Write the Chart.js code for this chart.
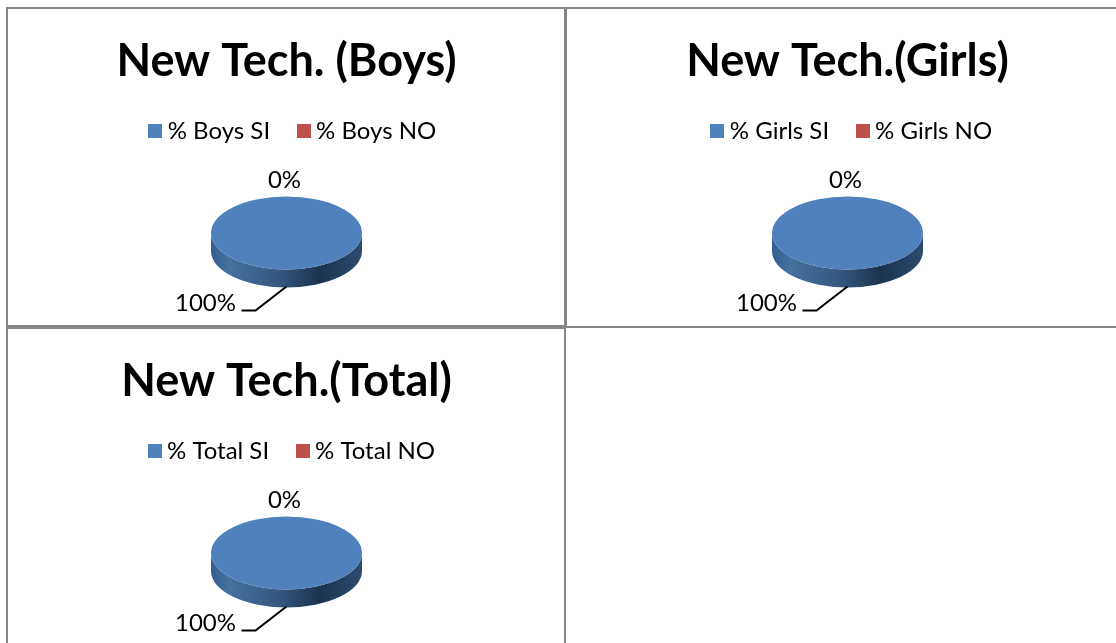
<!DOCTYPE html>
<html>
<head>
<meta charset="utf-8">
<title>New Tech.</title>
<script src="https://cdn.jsdelivr.net/npm/chart.js@4"></script>
<style>
  html, body { margin:0; padding:0; background:#fff; overflow:hidden; }
  body { position:relative; width:1116px; height:643px; }
  .rule { position:absolute; background:#868686; }
  canvas { position:absolute; }
</style>
</head>
<body>
<div class="rule" style="left:6px;top:7px;width:1110px;height:2px"></div>
<div class="rule" style="left:6px;top:7px;width:2px;height:636px"></div>
<div class="rule" style="left:564px;top:7px;width:3px;height:319px"></div>
<div class="rule" style="left:564px;top:326px;width:2px;height:317px"></div>
<div class="rule" style="left:6px;top:325px;width:558px;height:4px"></div>
<div class="rule" style="left:564px;top:326px;width:552px;height:2px"></div>

<canvas id="boysChart" style="left:8px;top:9px"></canvas>
<canvas id="girlsChart" style="left:567px;top:9px"></canvas>
<canvas id="totalChart" style="left:8px;top:329px"></canvas>

<script>
// Datos
const boysLabels = ['% Boys SI', '% Boys NO'];
const boysValues = [100, 0];
const girlsLabels = ['% Girls SI', '% Girls NO'];
const girlsValues = [100, 0];
const totalLabels = ['% Total SI', '% Total NO'];
const totalValues = [100, 0];
const sliceColors = ['#4F81BD', '#C0504D'];

const FONT = 'Lato, Carlito, Calibri, sans-serif';
const SQUASH = 0.483;  // alto/ancho de la elipse
const DEPTH = 18;      // canto del "3D"

// Cuadradito de leyenda, mas cerca del texto de lo que deja Chart.js
function swatch(color){
  const c = document.createElement('canvas');
  c.width = 14; c.height = 14;
  const g = c.getContext('2d');
  g.fillStyle = color;
  g.fillRect(0, 0, 14, 14);
  return c;
}

// Pie "3D": aplasta el circulo y dibuja el canto debajo
const pie3d = {
  id: 'pie3d',
  afterLayout(chart, args, opts){
    // la leyenda no va centrada del todo en el original
    chart.legend.left += opts.legendShift;
    chart.legend.right += opts.legendShift;
  },
  beforeDatasetDraw(chart){
    const ctx = chart.ctx;
    const arc = chart.getDatasetMeta(0).data[0];
    const { x, y, outerRadius: r } = arc;
    const ry = r * SQUASH;
    const grad = ctx.createLinearGradient(x - r, 0, x + r, 0);
    grad.addColorStop(0, '#335d8f');
    grad.addColorStop(0.12, '#44719f');
    grad.addColorStop(0.45, '#34577f');
    grad.addColorStop(0.72, '#1d3350');
    grad.addColorStop(1, '#2c4b70');
    ctx.save();
    ctx.fillStyle = grad;
    ctx.beginPath();
    ctx.ellipse(x, y, r, ry, 0, Math.PI, 0, true);
    ctx.lineTo(x + r, y + DEPTH);
    ctx.ellipse(x, y + DEPTH, r, ry, 0, 0, Math.PI, false);
    ctx.closePath();
    ctx.fill();
    ctx.translate(0, y);
    ctx.scale(1, SQUASH);
    ctx.translate(0, -y);
  },
  afterDatasetDraw(chart){
    chart.ctx.restore();
  },
  afterDraw(chart){
    const ctx = chart.ctx;
    const meta = chart.getDatasetMeta(0);
    const values = chart.data.datasets[0].data;
    ctx.save();
    ctx.font = '24px ' + FONT;
    ctx.fillStyle = '#000';
    ctx.textAlign = 'center';
    ctx.textBaseline = 'middle';
    meta.data.forEach((arc, i) => {
      const mid = (arc.startAngle + arc.endAngle) / 2;
      const text = values[i] + '%';
      if(Math.sin(mid) < 0){
        // etiqueta arriba, sin linea
        ctx.fillText(text, arc.x - 2, arc.y - 53);
      } else {
        const bottom = arc.y + arc.outerRadius * SQUASH + DEPTH;
        ctx.fillText(text, arc.x - 81, bottom + 16);
        ctx.strokeStyle = '#000';
        ctx.lineWidth = 2;
        ctx.beginPath();
        ctx.moveTo(arc.x, bottom - 1);
        ctx.lineTo(arc.x - 31, bottom + 23);
        ctx.lineTo(arc.x - 45, bottom + 23);
        ctx.stroke();
      }
    });
    ctx.restore();
  }
};

function makePie(id, title, labels, values, width, height, legendShift){
  const el = document.getElementById(id);
  el.style.width = width + 'px';
  el.style.height = height + 'px';
  el.width = width;
  el.height = height;
  return new Chart(el.getContext('2d'), {
    type: 'pie',
    plugins: [pie3d],
    data: {
      labels,
      datasets: [{
        data: values,
        backgroundColor: sliceColors,
        borderWidth: 0,
        radius: 75.5,
        clip: false
      }]
    },
    options: {
      responsive: false,
      animation: false,
      layout: { padding: { left: 1, bottom: 12 } },
      plugins: {
        pie3d: { legendShift },
        tooltip: { enabled: false },
        title: {
          display: true,
          text: title,
          color: '#000',
          font: { family: FONT, size: 45, weight: 'bold', lineHeight: 1 },
          padding: { top: 30, bottom: 2 }
        },
        legend: {
          position: 'top',
          labels: {
            color: '#000',
            font: { family: FONT, size: 24 },
            boxWidth: 1,
            padding: 33,
            usePointStyle: true,
            generateLabels(chart){
              return chart.data.labels.map((text, i) => ({
                text,
                fontColor: '#000',
                pointStyle: swatch(sliceColors[i]),
                index: i
              }));
            }
          }
        }
      }
    }
  });
}

makePie('boysChart', 'New Tech. (Boys)', boysLabels, boysValues, 556, 316, 9);
makePie('girlsChart', 'New Tech.(Girls)', girlsLabels, girlsValues, 560, 316, 7);
makePie('totalChart', 'New Tech.(Total)', totalLabels, totalValues, 556, 316, 8);
</script>
</body>
</html>
